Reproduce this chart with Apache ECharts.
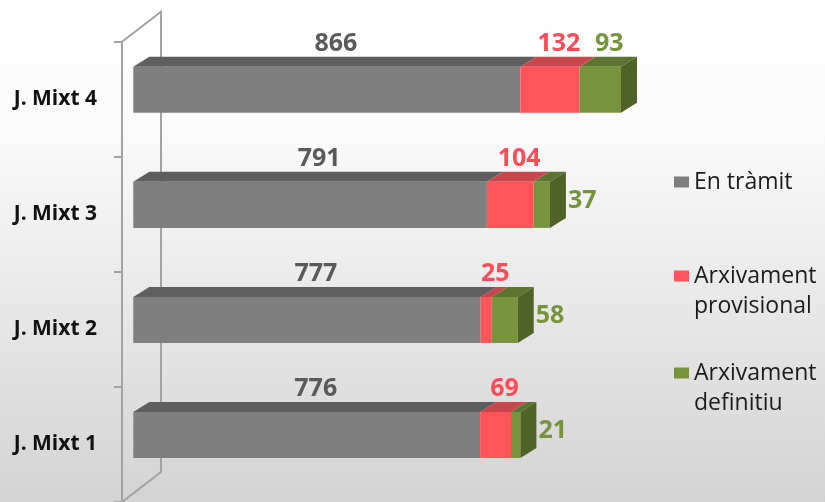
<!DOCTYPE html>
<html>
<head>
<meta charset="utf-8">
<script src="https://cdn.jsdelivr.net/npm/echarts@6/dist/echarts.min.js"></script>
<style>
  html, body { margin: 0; padding: 0; }
  #chart { width: 825px; height: 502px; }
</style>
</head>
<body>
<div id="chart"></div>
<script>
// Expedients per jutjat mixt
const categories = ['J. Mixt 1', 'J. Mixt 2', 'J. Mixt 3', 'J. Mixt 4'];
const seriesNames = ['En tràmit', 'Arxivament provisional', 'Arxivament definitiu'];
const enTramit = [776, 777, 791, 866];
const arxProvisional = [69, 25, 104, 132];
const arxDefinitiu = [21, 58, 37, 93];

const valueSets = [enTramit, arxProvisional, arxDefinitiu];

// Faces of each 3D segment: front, top, side; plus label colour
const palette = [
  { front: '#7f7f7f', top: '#5e5e5e', side: '#555555', label: '#5a5a5a' },
  { front: '#ff5459', top: '#c8464c', side: '#a93a3f', label: '#ff4c58' },
  { front: '#77933c', top: '#5d7431', side: '#4f6228', label: '#77933c' }
];

const DEPTH_X = 16;       // perspective depth of the bars
const DEPTH_Y = 10;
const FRONT_SHIFT = 11.3; // front face sits in front of the back wall
const LABEL_FONT = 'bold 25px "Open Sans"';

// stacked start/end of each segment
function stackBounds(s, i) {
  let start = 0;
  for (let k = 0; k < s; k++) start += valueSets[k][i];
  return [start, start + valueSets[s][i]];
}

function faceGeometry(api, start, end, cat) {
  const p0 = api.coord([start, cat]);
  const p1 = api.coord([end, cat]);
  const band = api.size([0, 1])[1];
  const h = band * 0.4;
  const cy = p0[1] - band * 0.082;
  return {
    x0: p0[0] + FRONT_SHIFT,
    x1: p1[0] + FRONT_SHIFT,
    yT: cy - h / 2,
    yB: cy + h / 2,
    cy: cy
  };
}

function makeRenderer(s) {
  const last = s === valueSets.length - 1;
  const col = palette[s];
  return function (params, api) {
    const start = api.value(0);
    const end = api.value(1);
    const cat = api.value(2);
    const val = api.value(3);
    const g = faceGeometry(api, start, end, cat);
    const children = [
      {
        type: 'polygon',
        shape: { points: [[g.x0, g.yT], [g.x0 + DEPTH_X, g.yT - DEPTH_Y], [g.x1 + DEPTH_X, g.yT - DEPTH_Y], [g.x1, g.yT]] },
        style: { fill: col.top }
      },
      {
        type: 'rect',
        shape: { x: g.x0, y: g.yT, width: g.x1 - g.x0, height: g.yB - g.yT },
        style: { fill: col.front }
      }
    ];
    if (last) {
      children.push({
        type: 'polygon',
        shape: { points: [[g.x1, g.yT], [g.x1 + DEPTH_X, g.yT - DEPTH_Y], [g.x1 + DEPTH_X, g.yB - DEPTH_Y], [g.x1, g.yB]] },
        style: { fill: col.side }
      });
    }
    // value label above the top face
    let lx = (g.x0 + g.x1) / 2 + 9;
    let ly = g.yT - DEPTH_Y - 13;
    let align = 'center';
    if (last && s > 0) {
      // move beside the bar when it would crowd the previous label
      const prev = stackBounds(s - 1, params.dataIndex);
      const pg = faceGeometry(api, prev[0], prev[1], cat);
      const prevX = (pg.x0 + pg.x1) / 2 + 9;
      if (lx - prevX < 44) {
        lx = g.x1 + DEPTH_X + 2;
        ly = g.cy - 4;
        align = 'left';
      }
    }
    children.push({
      type: 'text',
      style: {
        text: String(val), x: lx, y: ly,
        align: align, verticalAlign: 'middle',
        font: LABEL_FONT, fill: col.label
      }
    });
    return { type: 'group', children: children };
  };
}

const barSeries = valueSets.map(function (vals, s) {
  return {
    type: 'custom',
    name: seriesNames[s],
    coordinateSystem: 'cartesian2d',
    clip: false,
    z: 3 + s,
    itemStyle: { color: palette[s].front },
    encode: { x: [0, 1], y: 2 },
    data: vals.map(function (v, i) {
      const b = stackBounds(s, i);
      return [b[0], b[1], i, v];
    }),
    renderItem: makeRenderer(s)
  };
});

// back wall of the category axis
const wallSeries = {
  type: 'custom',
  name: 'wall',
  coordinateSystem: 'cartesian2d',
  clip: false,
  silent: true,
  z: 1,
  encode: { x: 0, y: 1 },
  data: [[0, 0]],
  renderItem: function (params, api) {
    const r = params.coordSys;
    const dx = 39, dy = 30;
    return {
      type: 'polyline',
      shape: { points: [[r.x, r.y], [r.x + dx, r.y - dy], [r.x + dx, r.y + r.height - dy], [r.x, r.y + r.height]] },
      style: { stroke: '#a3a3a3', lineWidth: 2, fill: null }
    };
  }
};

const legendText = { fontFamily: '"Open Sans"', fontSize: 23, color: '#1c1c1c', lineHeight: 30 };

// two-line legend entries: an empty first line keeps the marker level with "Arxivament"
function twoLines(n) { return ' \n' + n.replace(' ', '\n'); }

const chart = echarts.init(document.getElementById('chart'), null, { renderer: 'canvas' });
chart.setOption({
  animation: false,
  backgroundColor: {
    type: 'linear', x: 0, y: 0, x2: 0, y2: 1,
    colorStops: [
      { offset: 0, color: '#ffffff' },
      { offset: 0.25, color: '#fbfbfb' },
      { offset: 1, color: '#d3d3d3' }
    ]
  },
  grid: { left: 122, top: 41.7, width: 536.4, height: 466 },
  xAxis: { type: 'value', min: 0, max: 1200, show: false },
  yAxis: {
    type: 'category',
    data: categories,
    axisLine: { lineStyle: { color: '#a3a3a3', width: 2 } },
    axisTick: { show: true, length: 8, lineStyle: { color: '#a3a3a3', width: 2 } },
    axisLabel: { margin: 25, color: '#111111', fontFamily: '"Open Sans"', fontWeight: 'bold', fontSize: 21 },
    splitLine: { show: false }
  },
  legend: [
    {
      data: [seriesNames[0]], left: 674, top: 167, padding: 0,
      icon: 'rect', itemWidth: 15, itemHeight: 11, selectedMode: false,
      textStyle: legendText
    },
    {
      data: [seriesNames[1]], left: 674, top: 231, padding: 0,
      icon: 'rect', itemWidth: 15, itemHeight: 11, selectedMode: false,
      formatter: twoLines,
      textStyle: legendText
    },
    {
      data: [seriesNames[2]], left: 674, top: 328, padding: 0,
      icon: 'rect', itemWidth: 15, itemHeight: 11, selectedMode: false,
      formatter: twoLines,
      textStyle: legendText
    }
  ],
  series: [wallSeries].concat(barSeries)
});
</script>
</body>
</html>
